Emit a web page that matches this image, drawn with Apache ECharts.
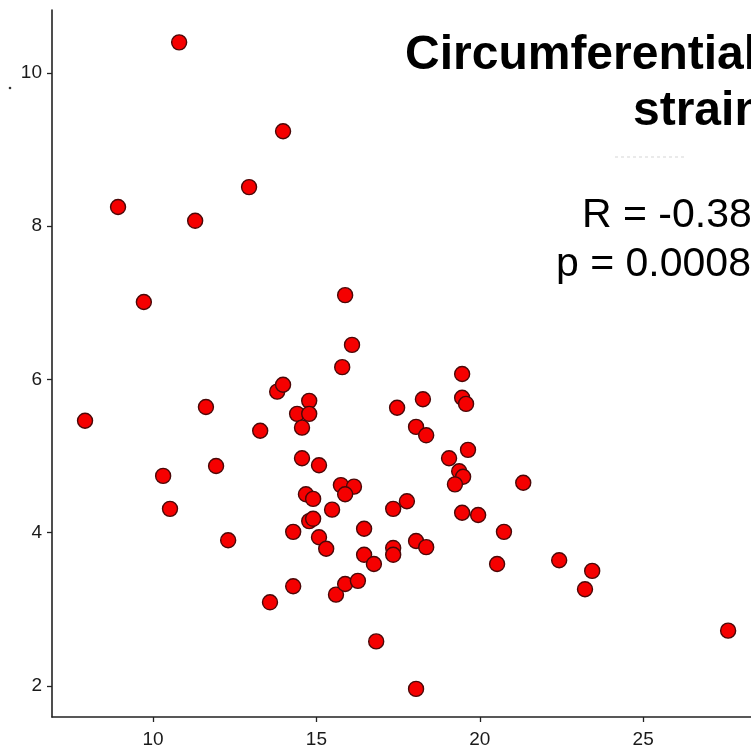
<!DOCTYPE html>
<html>
<head>
<meta charset="utf-8">
<script src="https://cdn.jsdelivr.net/npm/echarts@6/dist/echarts.min.js"></script>
<style>
html,body{margin:0;padding:0;background:#fff;}
#chart{width:751px;height:749px;}
</style>
</head>
<body>
<div id="chart"></div>
<script>
// Data
const xValues = [7.92,10.80,8.93,11.29,9.72,13.98,12.94,10.31,10.52,11.62,11.93,12.30,13.28,13.58,13.80,13.98,14.29,14.29,14.41,14.56,14.78,14.78,14.56,15.08,14.68,14.90,14.78,14.90,15.08,15.30,15.48,15.60,15.88,16.27,15.79,15.88,16.09,15.75,16.15,15.88,16.46,16.46,16.76,16.83,17.35,17.77,17.35,17.35,17.47,18.05,18.36,18.26,18.05,18.36,18.05,19.06,19.64,19.37,19.49,19.24,19.46,19.46,19.58,19.46,19.95,20.74,20.53,21.33,22.43,23.44,23.22,27.60];
const yValues = [5.46,10.40,8.25,8.07,7.01,9.24,8.51,4.74,4.31,5.64,4.87,3.90,5.33,3.09,5.84,5.93,3.30,4.01,5.55,5.37,5.72,5.55,4.97,4.88,4.50,4.44,4.15,4.18,3.94,3.79,4.30,3.19,3.33,3.37,6.16,7.10,6.45,4.62,4.60,4.50,4.05,3.71,3.59,2.58,4.31,4.41,3.80,3.71,5.63,5.38,5.27,5.74,3.89,3.81,1.96,4.97,5.08,4.80,4.73,4.63,6.07,5.76,5.68,4.26,4.23,4.01,3.59,4.65,3.64,3.50,3.26,2.72];
const xTicks = [10, 15, 20, 25];
const yTicks = [2, 4, 6, 8, 10];
const titleLines = ['Circumferential', 'strain'];
const statLines = ['R = -0.38', 'p = 0.0008'];

const points = xValues.map((x, i) => [x, yValues[i]]);
const FONT = "'Liberation Sans', Arial, Helvetica, sans-serif";

const chart = echarts.init(document.getElementById('chart'), null, {renderer: 'canvas'});
const axisCommon = {
  axisLine: {show: true, lineStyle: {color: '#222', width: 1.6}},
  axisTick: {show: true, length: 5, lineStyle: {color: '#222', width: 1.3}},
  splitLine: {show: false},
  axisLabel: {color: '#1a1a1a', fontSize: 19, fontFamily: FONT}
};
chart.setOption({
  animation: false,
  backgroundColor: '#ffffff',
  grid: {left: 52, right: 0, top: 10, bottom: 32, containLabel: false},
  xAxis: Object.assign({}, axisCommon, {
    type: 'value', min: 6.909, max: 28.30,
    axisTick: Object.assign({}, axisCommon.axisTick, {customValues: xTicks}),
    axisLabel: Object.assign({}, axisCommon.axisLabel, {customValues: xTicks, margin: 13})
  }),
  yAxis: Object.assign({}, axisCommon, {
    type: 'value', min: 1.593, max: 10.822,
    axisTick: Object.assign({}, axisCommon.axisTick, {customValues: yTicks}),
    axisLabel: Object.assign({}, axisCommon.axisLabel, {customValues: yTicks, margin: 10})
  }),
  series: [{
    type: 'scatter',
    data: points,
    symbol: 'circle',
    symbolSize: 15,
    itemStyle: {color: '#f50000', borderColor: '#4a0808', borderWidth: 1.4, opacity: 1}
  }],
  graphic: [
    {type: 'text', left: 405, top: 32, style: {text: titleLines[0], font: 'bold 48px ' + FONT, fill: '#000'}},
    {type: 'text', left: 633, top: 88, style: {text: titleLines[1], font: 'bold 48px ' + FONT, fill: '#000'}},
    {type: 'line', shape: {x1: 615, y1: 157, x2: 684, y2: 157}, style: {stroke: '#dcdcdc', lineWidth: 1.2, lineDash: [3, 3]}},
    {type: 'circle', shape: {cx: 10, cy: 88, r: 1.3}, style: {fill: '#333'}},
    {type: 'text', left: 582, top: 195, style: {text: statLines[0], font: '41px ' + FONT, fill: '#000'}},
    {type: 'text', left: 556, top: 244, style: {text: statLines[1], font: '41px ' + FONT, fill: '#000'}}
  ]
});
</script>
</body>
</html>
